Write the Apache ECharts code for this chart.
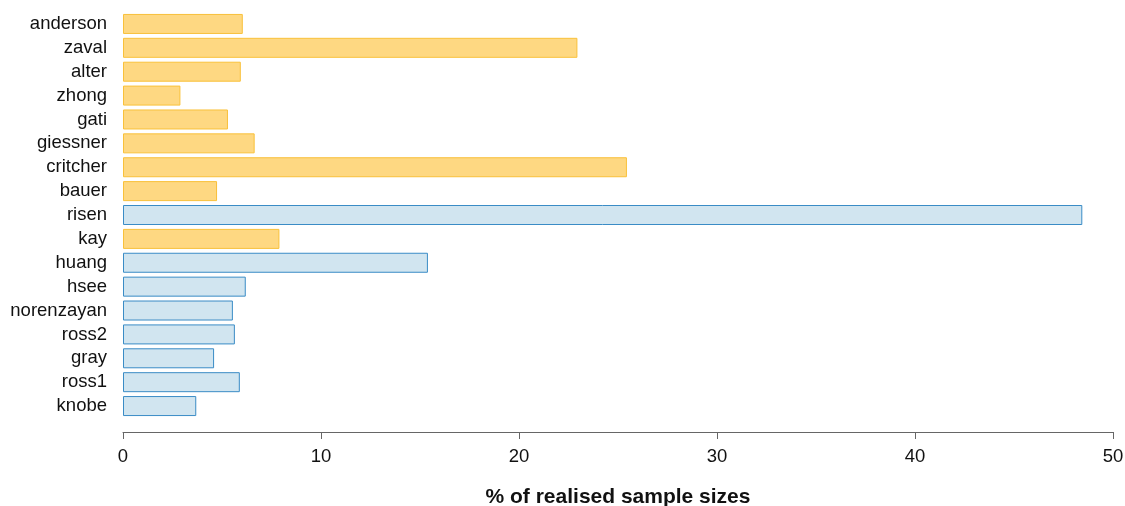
<!DOCTYPE html>
<html>
<head>
<meta charset="utf-8">
<script src="https://cdn.jsdelivr.net/npm/echarts@6/dist/echarts.min.js"></script>
<style>html,body{margin:0;padding:0;background:#fff;overflow:hidden}#c{width:1125px;height:506px}</style>
</head>
<body>
<div id="c"></div>
<script>
// categories from bottom to top
const categories = ["knobe","ross1","gray","ross2","norenzayan","hsee","huang","kay","risen","bauer","critcher","giessner","gati","zhong","alter","zaval","anderson"];
const values = [3.7, 5.9, 4.6, 5.65, 5.55, 6.2, 15.4, 7.9, 48.45, 4.75, 25.45, 6.65, 5.3, 2.9, 5.95, 22.95, 6.05];
const groups = ["blue","blue","blue","blue","blue","blue","blue","orange","blue","orange","orange","orange","orange","orange","orange","orange","orange"];
const xTicks = [0, 10, 20, 30, 40, 50];

const palette = {
  orange: {fill: "#FED882", border: "#F9C13A"},
  blue: {fill: "#D1E5F0", border: "#3A8CC6"}
};

const chart = echarts.init(document.getElementById('c'), null, {renderer: 'canvas', width: 1125, height: 506});
chart.setOption({
  animation: false,
  grid: {left: 123, right: 12, top: 12, bottom: 88, containLabel: false, outerBoundsMode: 'none'},
  xAxis: {
    type: 'value', min: xTicks[0], max: xTicks[xTicks.length - 1], interval: 10,
    offset: 14,
    axisLine: {show: true, lineStyle: {color: '#666', width: 1}},
    axisTick: {show: true, length: 7, lineStyle: {color: '#666'}},
    splitLine: {show: false},
    axisLabel: {color: '#111', fontSize: 18.5, fontFamily: 'Liberation Sans', margin: 15},
    name: '% of realised sample sizes',
    nameLocation: 'middle', nameGap: 55,
    nameTextStyle: {fontSize: 21, fontWeight: 'bold', color: '#111', fontFamily: 'Liberation Sans'}
  },
  yAxis: {
    type: 'category', data: categories,
    axisLine: {show: false}, axisTick: {show: false},
    axisLabel: {interval: 0, color: '#111', fontSize: 18.5, fontFamily: 'Liberation Sans', margin: 16}
  },
  series: [{
    type: 'bar',
    barWidth: 20,
    data: values.map((v, i) => ({
      value: v,
      itemStyle: {color: palette[groups[i]].fill, borderColor: palette[groups[i]].border, borderWidth: 1}
    }))
  }]
});
</script>
</body>
</html>
